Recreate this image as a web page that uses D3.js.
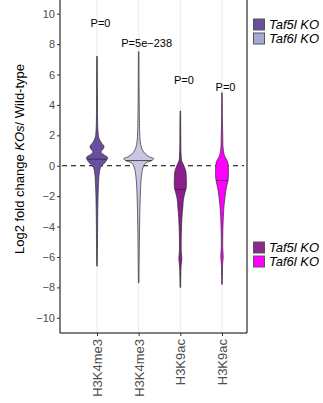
<!DOCTYPE html>
<html>
<head>
<meta charset="utf-8">
<script src="https://cdn.jsdelivr.net/npm/d3@7"></script>
<style>
  body { margin: 0; background: #fff; }
  svg { display: block; font-family: "Liberation Sans", Arial, sans-serif; }
</style>
</head>
<body>
<svg id="chart" width="323" height="403"></svg>
<script>
// categories and labels
let groups = ['H3K4me3_Taf5l', 'H3K4me3_Taf6l', 'H3K9ac_Taf5l', 'H3K9ac_Taf6l']
let groupLabels = ['H3K4me3', 'H3K4me3', 'H3K9ac', 'H3K9ac']
let fills = ['#6a4ea0', '#c9c6e3', '#8c1d8c', '#ff00ff']
let keyFills = ['#6a4ea0', '#a3acd9', '#8c2a8c', '#ff00ff']
let medians = [0.43, 0.34, -1.56, -0.97]
let pLabels = ['P=0', 'P=5e\u2212238', 'P=0', 'P=0']
let pLabelY = [9.4, 8.05, 5.6, 5.2]
let yTicks = [-10, -8, -6, -4, -2, 0, 2, 4, 6, 8, 10]

// density profiles: [value, relative density]
let dens1 = [[7.2,0.02],[5,0.03],[3,0.04],[2.2,0.07],[1.8,0.13],[1.5,0.3],[1.27,0.47],[1.1,0.4],[0.9,0.27],[0.72,0.45],[0.55,0.7],[0.3,0.6],[0.1,0.42],[-0.1,0.24],[-0.5,0.15],[-1.4,0.09],[-2.5,0.06],[-4,0.04],[-5.5,0.03],[-6.6,0.02]]
let dens2 = [[7.5,0.02],[5,0.03],[3,0.05],[2.2,0.07],[1.65,0.1],[1.15,0.2],[0.82,0.4],[0.58,0.73],[0.47,1.0],[0.34,0.87],[0.18,0.47],[-0.08,0.3],[-0.73,0.18],[-1.4,0.13],[-2.5,0.09],[-4,0.06],[-6,0.035],[-7.7,0.02]]
let dens3 = [[3.6,0.02],[2,0.03],[1,0.04],[0.6,0.06],[0.36,0.08],[0.14,0.17],[-0.08,0.27],[-0.4,0.37],[-0.95,0.4],[-1.4,0.4],[-1.8,0.3],[-2.26,0.2],[-2.7,0.17],[-3.1,0.13],[-3.8,0.09],[-4.9,0.06],[-5.6,0.06],[-6.1,0.1],[-6.6,0.05],[-7.3,0.03],[-8,0.02]]
let dens4 = [[4.8,0.02],[3,0.03],[2,0.05],[1.2,0.07],[0.8,0.13],[0.58,0.2],[0.36,0.33],[0.14,0.4],[-0.5,0.43],[-0.97,0.4],[-1.4,0.3],[-2.05,0.2],[-2.7,0.13],[-3.35,0.09],[-4.4,0.055],[-5.4,0.05],[-6,0.08],[-6.5,0.04],[-7.2,0.03],[-7.8,0.02]]
let densities = [dens1, dens2, dens3, dens4]

let legend1 = ['Taf5l KO', 'Taf6l KO']

let panel = {left: 60, right: 247, top: -2, bottom: 333}

let svg = d3.select('#chart')

let y = d3.scaleLinear().domain([-11, 10.9]).range([333, 0])
let x = d3.scalePoint().domain(groups).range([97, 222])
let w = d3.scaleLinear().domain([0, 1]).range([0, 15])

// vertical grid
svg.append('g').selectAll('line')
    .data(groups)
    .enter()
    .append('line')
    .attr('x1', d => x(d)).attr('x2', d => x(d))
    .attr('y1', panel.top).attr('y2', panel.bottom)
    .attr('stroke', '#ebebeb')
    .attr('stroke-width', 1)

// dashed zero line
svg.append('line')
    .attr('x1', panel.left + 2).attr('x2', panel.right - 3)
    .attr('y1', y(0)).attr('y2', y(0))
    .attr('stroke', '#000')
    .attr('stroke-width', 1)
    .attr('stroke-dasharray', '5,4')

// violins
let area = d3.area()
    .y(d => y(d[0]))
    .curve(d3.curveCatmullRom)

groups.forEach((g, i) => {
    let cx = x(g)
    let dd = densities[i]
    svg.append('path')
        .datum(dd)
        .attr('d', area.x0(d => cx - w(d[1])).x1(d => cx + w(d[1])))
        .attr('fill', fills[i])
        .attr('stroke', '#2b2b2b')
        .attr('stroke-width', 0.7)

    // width at median
    let m = medians[i]
    let k = dd.findIndex(d => d[0] < m)
    let a = dd[k - 1], b = dd[k]
    let t = (a[0] - m) / (a[0] - b[0])
    let hw = w(a[1] + t * (b[1] - a[1]))
    svg.append('line')
        .attr('x1', cx - hw).attr('x2', cx + hw)
        .attr('y1', y(m)).attr('y2', y(m))
        .attr('stroke', '#2b2b2b')
        .attr('stroke-width', 0.8)
})

// p-value labels
svg.append('g').selectAll('text')
    .data(groups)
    .enter()
    .append('text')
    .attr('x', (d, i) => x(d) + (i === 1 ? 8 : 3.5))
    .attr('y', (d, i) => y(pLabelY[i]))
    .attr('dy', '0.35em')
    .attr('text-anchor', 'middle')
    .style('font-size', '11px')
    .attr('fill', '#000')
    .text((d, i) => pLabels[i])

// panel border (left, bottom, right)
svg.append('path')
    .attr('d', `M${panel.left},${panel.top}V${panel.bottom}H${panel.right}V${panel.top}`)
    .attr('fill', 'none')
    .attr('stroke', '#000')
    .attr('stroke-width', 1)

// y axis
let yAxis = svg.append('g')
    .attr('transform', `translate(${panel.left},0)`)
    .call(d3.axisLeft(y).tickValues(yTicks).tickSize(3).tickPadding(2))
yAxis.select('.domain').remove()
yAxis.selectAll('line').attr('stroke', '#333')
yAxis.selectAll('text')
    .attr('fill', '#4d4d4d')
    .style('font-size', '11px')
    .style('font-family', '"Liberation Sans", Arial, sans-serif')

// x axis
let xAxis = svg.append('g')
    .attr('transform', `translate(0,${panel.bottom})`)
    .call(d3.axisBottom(x).tickSize(3).tickFormat((d, i) => groupLabels[i]))
xAxis.select('.domain').remove()
xAxis.selectAll('line').attr('stroke', '#333')
xAxis.selectAll('text')
    .attr('fill', '#4d4d4d')
    .style('font-size', '13px')
    .style('font-family', '"Liberation Sans", Arial, sans-serif')
    .attr('transform', 'rotate(-90)')
    .attr('text-anchor', 'end')
    .attr('x', -6)
    .attr('y', 0)
    .attr('dy', '0.35em')

// y axis title
let title = svg.append('text')
    .attr('transform', 'translate(24,159) rotate(-90)')
    .attr('text-anchor', 'middle')
    .style('font-size', '13px')
    .attr('fill', '#000')
title.append('tspan').text('Log2 fold change ')
title.append('tspan').style('font-style', 'italic').text('KOs')
title.append('tspan').text('/ Wild-type')

// legends
let drawLegend = (top, colors) => {
    let lg = svg.append('g')
    colors.forEach((c, i) => {
        lg.append('rect')
            .attr('x', 253.5).attr('y', top + i * 14)
            .attr('width', 11).attr('height', 11)
            .attr('fill', c)
            .attr('stroke', '#555')
            .attr('stroke-width', 1)
        lg.append('text')
            .attr('x', 269).attr('y', top + i * 14 + 5.5)
            .attr('dy', '0.35em')
            .style('font-size', '13px')
            .style('font-style', 'italic')
            .attr('fill', '#000')
            .text(legend1[i])
    })
}
drawLegend(19, keyFills.slice(0, 2))
drawLegend(242, keyFills.slice(2, 4))
</script>
</body>
</html>
